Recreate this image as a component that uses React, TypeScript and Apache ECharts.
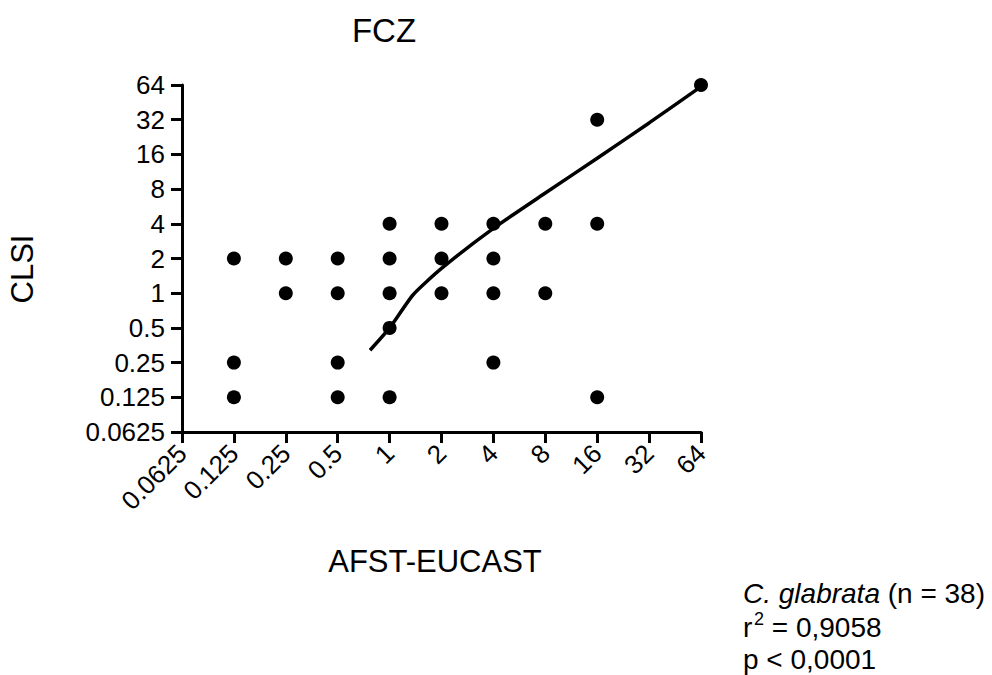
import React, { useEffect, useRef } from "react";
import * as echarts from "echarts";

// Scatter points (MIC values)
const pointsAFST = [0.125, 0.125, 0.125, 0.25, 0.25, 0.5, 0.5, 0.5, 0.5, 1, 1, 1, 1, 1, 2, 2, 2, 4, 4, 4, 4, 8, 8, 16, 16, 16, 64];
const pointsCLSI = [2, 0.25, 0.125, 2, 1, 2, 1, 0.25, 0.125, 4, 2, 1, 0.5, 0.125, 4, 2, 1, 4, 2, 1, 0.25, 4, 1, 32, 4, 0.125, 64];

// Fitted curve
const fitAFST = [0.77, 1, 1.37, 2, 4, 8, 16, 32, 64];
const fitCLSI = [0.32, 0.5, 0.97, 1.64, 3.65, 7.4, 14.8, 30, 62];

// Tick range (log2 exponents)
const tickMinExp = -4;
const tickMaxExp = 6;

const titleText = "FCZ";
const xName = "AFST-EUCAST";
const yName = "CLSI";
const speciesText = "C. glabrata";
const nText = " (n = 38)";
const r2Text = " = 0,9058";
const pText = "p < 0,0001";

const FONT = "'Liberation Sans', Arial, Helvetica, sans-serif";

export default function App() {
  const ref = useRef<HTMLDivElement>(null);
  useEffect(() => {
    document.body.style.margin = "0";
    const chart = echarts.init(ref.current!, null, { renderer: "svg" });
    const fmt = (v: number) => String(Math.pow(2, v));
    const axisCommon = {
      type: "value",
      min: tickMinExp,
      max: tickMaxExp,
      interval: 1,
      splitLine: { show: false },
      axisLine: { show: true, onZero: false, lineStyle: { color: "#000", width: 3 } },
      axisTick: { show: true, length: 11, lineStyle: { color: "#000", width: 3 } },
    };
    chart.setOption({
      animation: false,
      backgroundColor: "#fff",
      grid: { left: 182, right: 291, top: 85, bottom: 243, containLabel: false },
      xAxis: {
        ...axisCommon,
        axisLabel: { formatter: fmt, rotate: 45, fontSize: 26, color: "#000", fontFamily: FONT, margin: 17 },
      },
      yAxis: {
        ...axisCommon,
        axisLabel: { formatter: fmt, fontSize: 26, color: "#000", fontFamily: FONT, margin: 17 },
      },
      series: [
        {
          type: "line",
          data: fitAFST.map((x, i) => [Math.log2(x), Math.log2(fitCLSI[i])]),
          showSymbol: false,
          smooth: 0.2,
          lineStyle: { color: "#000", width: 3.5 },
          z: 2,
        },
        {
          type: "scatter",
          data: pointsAFST.map((x, i) => [Math.log2(x), Math.log2(pointsCLSI[i])]),
          symbolSize: 14,
          itemStyle: { color: "#000", opacity: 1 },
          z: 3,
        },
      ],
      graphic: [
        {
          type: "text",
          x: 384,
          y: 30,
          style: { text: titleText, fontSize: 33, fontFamily: FONT, fill: "#000", align: "center", verticalAlign: "middle" },
        },
        {
          type: "text",
          x: 22,
          y: 269,
          rotation: Math.PI / 2,
          style: { text: yName, fontSize: 31, fontFamily: FONT, fill: "#000", align: "center", verticalAlign: "middle" },
        },
        {
          type: "text",
          x: 435,
          y: 561,
          style: { text: xName, fontSize: 31, fontFamily: FONT, fill: "#000", align: "center", verticalAlign: "middle" },
        },
        {
          type: "text",
          x: 743,
          y: 593,
          style: {
            text: "{i|" + speciesText + "}{n|" + nText + "}",
            fontSize: 28,
            fontFamily: FONT,
            fill: "#000",
            align: "left",
            verticalAlign: "middle",
            rich: {
              i: { fontSize: 28, fontFamily: FONT, fontStyle: "italic", fill: "#000" },
              n: { fontSize: 28, fontFamily: FONT, fill: "#000" },
            },
          },
        },
        {
          type: "text",
          x: 743,
          y: 627,
          style: { text: "r", fontSize: 28, fontFamily: FONT, fill: "#000", align: "left", verticalAlign: "middle" },
        },
        {
          type: "text",
          x: 754,
          y: 619,
          style: { text: "2", fontSize: 18, fontFamily: FONT, fill: "#000", align: "left", verticalAlign: "middle" },
        },
        {
          type: "text",
          x: 764,
          y: 627,
          style: { text: r2Text, fontSize: 28, fontFamily: FONT, fill: "#000", align: "left", verticalAlign: "middle" },
        },
        {
          type: "text",
          x: 743,
          y: 659,
          style: { text: pText, fontSize: 28, fontFamily: FONT, fill: "#000", align: "left", verticalAlign: "middle" },
        },
      ],
    });
    return () => chart.dispose();
  }, []);
  return <div ref={ref} style={{ width: 992, height: 675 }} />;
}
